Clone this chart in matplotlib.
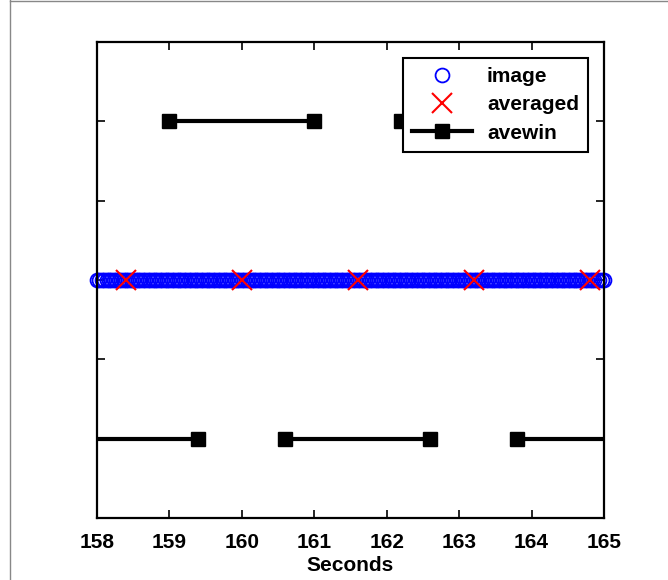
import numpy as np
import matplotlib
matplotlib.use('Agg')
import matplotlib.pyplot as plt
from matplotlib.lines import Line2D

# image frames: one sample every 1/30 s between 158 and 165 seconds
frame_start = 158.0
frame_end = 165.0
frame_rate = 30
image_t = np.arange(frame_start, frame_end + 1e-9, 1.0 / frame_rate)
image_y = np.zeros(len(image_t))

# averaged samples (centres of the windows)
averaged_t = [158.4, 160.0, 161.6, 163.2, 164.8]
averaged_y = [0, 0, 0, 0, 0]

# averaging windows: start, end and level
win_start = [157.4, 159.0, 160.6, 162.2, 163.8]
win_end = [159.4, 161.0, 162.6, 164.2, 165.8]
win_level = [-1, 1, -1, 1, -1]

xticks = [158, 159, 160, 161, 162, 163, 164, 165]
yticks = [-1, -0.5, 0, 0.5, 1]

plt.rcParams['font.family'] = ['Liberation Sans', 'DejaVu Sans']
plt.rcParams['font.weight'] = 'bold'

fig = plt.figure(figsize=(6.68, 5.8), dpi=100)
ax = fig.add_axes([97 / 668, 62 / 580, 507 / 668, 476 / 580])

# build the window line with gaps between windows
wx = []
wy = []
for s, e, lv in zip(win_start, win_end, win_level):
    wx += [s, e, np.nan]
    wy += [lv, lv, np.nan]

ax.plot(image_t, image_y, 'o', mfc='none', mec='blue', ms=10, mew=1.3,
        label='image', clip_on=False)
ax.plot(averaged_t, averaged_y, 'x', color='red', ms=15, mew=1.5, label='averaged')
ax.plot(wx, wy, '-s', color='black', lw=3, ms=10, mfc='black', mec='black', label='avewin')

ax.set_xlim(158, 165)
ax.set_ylim(-1.5, 1.5)
ax.set_xticks(xticks)
ax.set_xticklabels([str(t) for t in xticks], fontsize=15, fontweight='bold')
ax.set_yticks(yticks)
ax.set_yticklabels([])
ax.tick_params(direction='in', length=6, width=1.2, top=True, right=True, pad=11)
for sp in ax.spines.values():
    sp.set_linewidth(1.6)
ax.set_xlabel('Seconds', fontsize=15, fontweight='bold', labelpad=3)

leg = ax.legend(loc='upper right', fontsize=15, frameon=True, fancybox=False,
                framealpha=1, borderaxespad=0.75, handlelength=2.9,
                labelspacing=0.45, borderpad=0.45, handletextpad=0.7)
leg.get_frame().set_edgecolor('black')
leg.get_frame().set_linewidth(1.5)
leg.set_zorder(10)
for t in leg.get_texts():
    t.set_fontweight('bold')

# grey edge of the surrounding window
fig.add_artist(Line2D([10 / 668, 10 / 668], [0, 1], color='#888888', lw=1))
fig.add_artist(Line2D([10 / 668, 1], [0.999, 0.999], color='#888888', lw=1))

fig.savefig('out.png', dpi=100)
